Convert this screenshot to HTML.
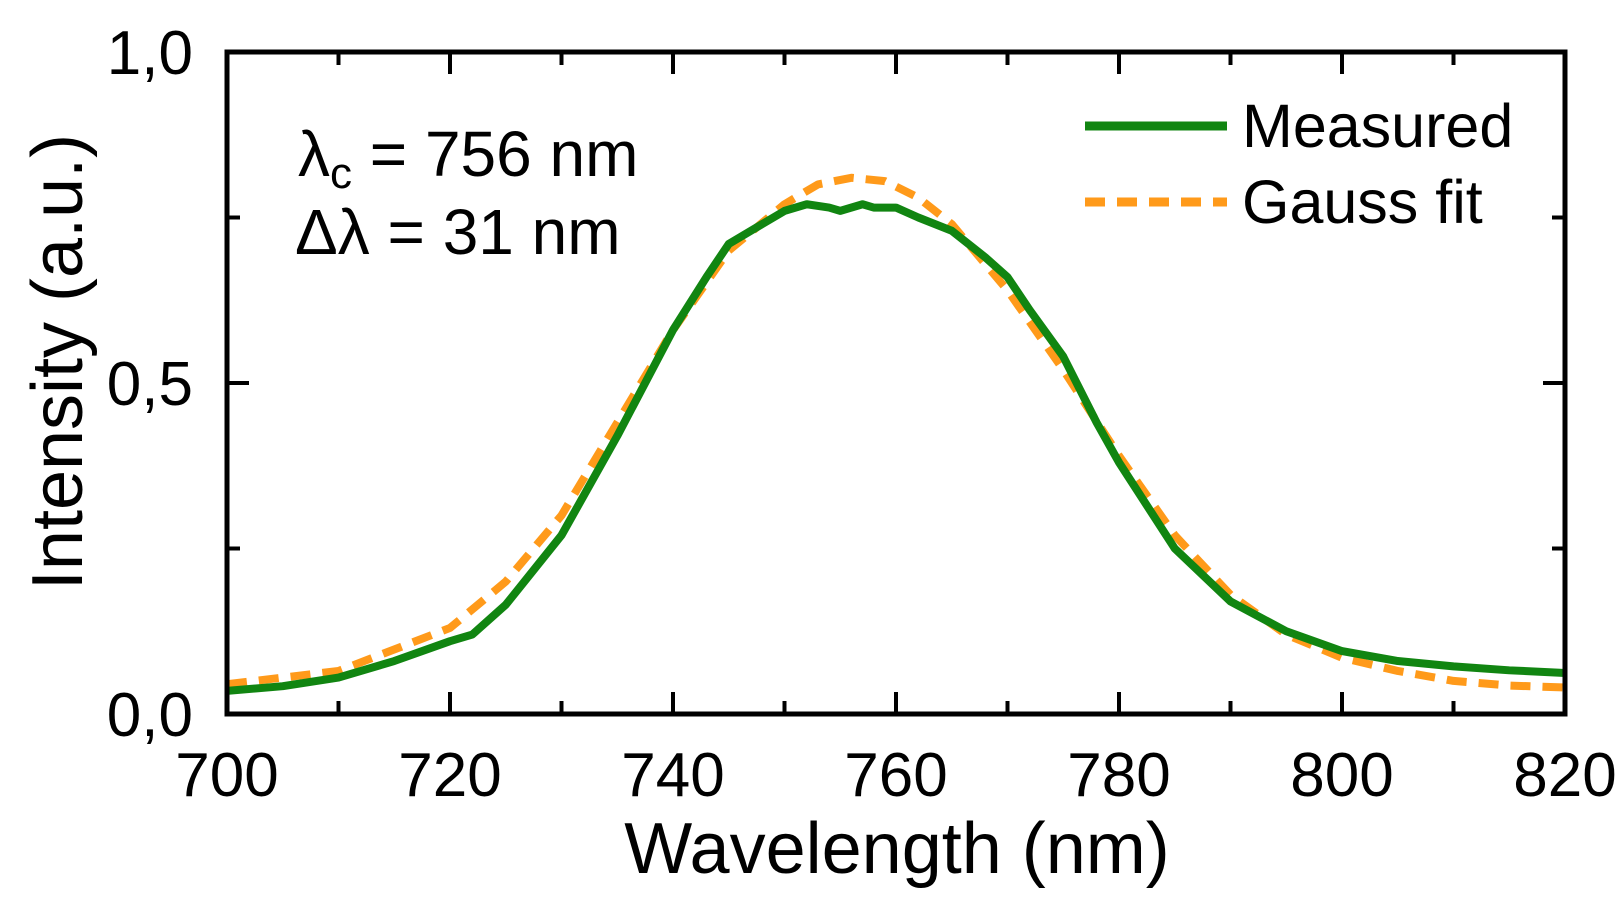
<!DOCTYPE html>
<html><head><meta charset="utf-8"><style>
html,body{margin:0;padding:0;background:#fff}
svg{display:block;font-family:"Liberation Sans",sans-serif}
</style></head><body>
<svg id="chart" width="1622" height="924" viewBox="0 0 1622 924" xmlns="http://www.w3.org/2000/svg">
<g id="plot"></g>
</svg>
<script>
const xTicks=[700,720,740,760,780,800,820];
const yTicks=[0,0.5,1.0];
const yTickLabels=["0,0","0,5","1,0"];
const measuredX=[700,705,710,715,720,722,725,730,735,740,743,745,748,750,752,754,755,757,758,760,762,765,768,770,772,775,778,780,785,790,795,800,805,810,815,820];
const measuredY=[0.035,0.042,0.055,0.08,0.11,0.12,0.165,0.27,0.42,0.58,0.66,0.71,0.74,0.76,0.77,0.765,0.76,0.77,0.765,0.765,0.75,0.73,0.69,0.66,0.61,0.54,0.44,0.38,0.25,0.17,0.125,0.095,0.08,0.072,0.066,0.062];
const gaussX=[700,710,720,725,730,735,740,745,750,753,756,759,762,765,770,775,780,785,790,795,800,805,810,815,820];
const gaussY=[0.045,0.065,0.13,0.2,0.3,0.44,0.58,0.7,0.77,0.8,0.81,0.805,0.78,0.74,0.64,0.52,0.39,0.27,0.18,0.12,0.085,0.065,0.05,0.043,0.04];

const L=227,R=1565,T=52,B=714;
const sx=v=>L+(v-700)/(820-700)*(R-L);
const sy=v=>B-v*(B-T);
const NS="http://www.w3.org/2000/svg";
const g=document.getElementById('plot');
function mk(tag,attrs,parent){const e=document.createElementNS(NS,tag);for(const k in attrs)e.setAttribute(k,attrs[k]);(parent||g).appendChild(e);return e;}

for(let v=700;v<=820;v+=10){
  const major=(v%20===0);const len=major?22:13;const x=sx(v);
  const t1=mk('line',{x1:x,y1:B,x2:x,y2:B-len,stroke:'#000','stroke-width':4});
  
  
  const t2=mk('line',{x1:x,y1:T,x2:x,y2:T+len,stroke:'#000','stroke-width':4});
  
  
}
for(let i=0;i<=4;i++){
  const v=i*0.25;const major=(i%2===0);const len=major?22:13;const y=sy(v);
  const t1=mk('line',{x1:L,y1:y,x2:L+len,y2:y,stroke:'#000','stroke-width':4});
  
  
  const t2=mk('line',{x1:R,y1:y,x2:R-len,y2:y,stroke:'#000','stroke-width':4});
  
  
}
xTicks.forEach(v=>{
  const t=mk('text',{x:sx(v),y:796,'font-size':62,'text-anchor':'middle',fill:'#000'});
  t.textContent=v;
  
  
});
yTicks.forEach((v,i)=>{
  const t=mk('text',{x:193,y:sy(v)+22,'font-size':62,'text-anchor':'end',fill:'#000'});
  t.textContent=yTickLabels[i];
  
  
});

const gp=mk('polyline',{points:gaussX.map((x,i)=>sx(x)+','+sy(gaussY[i])).join(' '),fill:'none',stroke:'#ff9a1a','stroke-width':8,'stroke-dasharray':'20,12','stroke-linejoin':'round'});


const mp=mk('polyline',{points:measuredX.map((x,i)=>sx(x)+','+sy(measuredY[i])).join(' '),fill:'none',stroke:'#118511','stroke-width':8,'stroke-linejoin':'round'});



const fr=mk('rect',{x:L,y:T,width:R-L,height:B-T,fill:'none',stroke:'#000','stroke-width':5});


</script>
<svg style="position:absolute;left:0;top:0" width="1622" height="924" viewBox="0 0 1622 924" xmlns="http://www.w3.org/2000/svg" font-family="Liberation Sans, sans-serif">
<text x="897" y="873" font-size="72" text-anchor="middle">Wavelength (nm)</text>
<text transform="translate(82,362) rotate(-90)" font-size="72" text-anchor="middle">Intensity (a.u.)</text>
<text x="298" y="176" font-size="64">λ<tspan font-size="44" dy="12">c</tspan><tspan dy="-12"> = 756 nm</tspan></text>
<text x="295" y="254" font-size="64">Δλ = 31 nm</text>
<g>
<line x1="1085" y1="126" x2="1227" y2="126" stroke="#118511" stroke-width="9"/>
<text x="1242" y="147" font-size="61">Measured</text>
<line x1="1085" y1="202" x2="1227" y2="202" stroke="#ff9a1a" stroke-width="9" stroke-dasharray="20,12"/>
<text x="1242" y="223" font-size="61">Gauss fit</text>
</g>
</svg>
</body></html>
